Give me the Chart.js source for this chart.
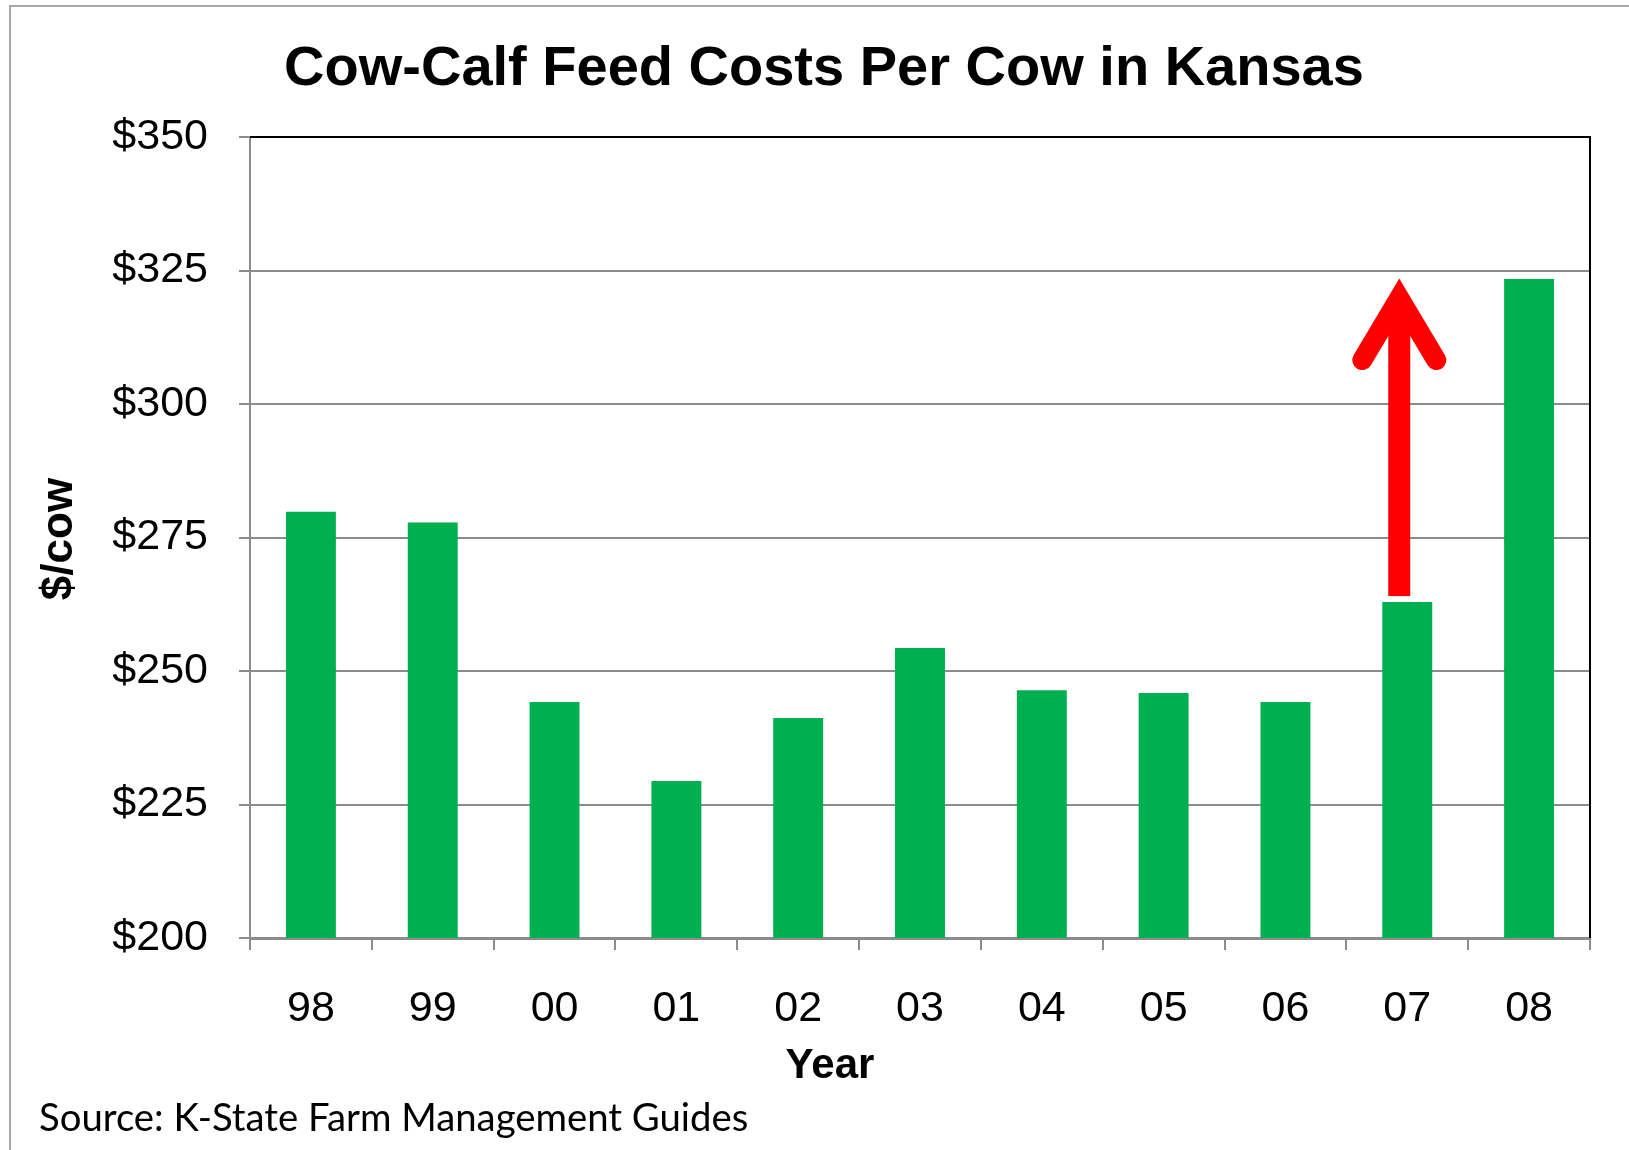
<!DOCTYPE html>
<html><head><meta charset="utf-8">
<script src="https://cdn.jsdelivr.net/npm/chart.js@4/dist/chart.umd.min.js"></script>
<style>html,body{margin:0;padding:0;background:#fff;} canvas{display:block;}</style>
</head><body>
<canvas id="c" width="1629" height="1150"></canvas>
<script>
// ---- data ----
const years = ['98', '99', '00', '01', '02', '03', '04', '05', '06', '07', '08'];
const costs = [279.8, 277.8, 244.2, 229.4, 241.2, 254.3, 246.4, 245.9, 244.2, 262.9, 323.4];
const yMin = 200, yMax = 350, yStep = 25;
const titleText = 'Cow-Calf Feed Costs Per Cow in Kansas';
const xTitleText = 'Year';
const yTitleText = '$/cow';
const sourceText = 'Source: K-State Farm Management Guides';
const arrowFrom = '07', arrowTo = '08';

const FONT = "'Liberation Sans', Arial, sans-serif";
const GRID = '#8c8c8c';

const decor = {
  id: 'decor',
  beforeDraw(chart) {
    const ctx = chart.ctx;
    ctx.save();
    ctx.fillStyle = '#fff';
    ctx.fillRect(0, 0, chart.width, chart.height);
    ctx.strokeStyle = '#a6a6a6';
    ctx.lineWidth = 2;
    ctx.beginPath();
    ctx.moveTo(10, chart.height);
    ctx.lineTo(10, 6);
    ctx.lineTo(chart.width, 6);
    ctx.stroke();
    ctx.restore();
  },
  afterDatasetsDraw(chart) {
    const ctx = chart.ctx;
    const xs = chart.scales.x, ys = chart.scales.y;
    const i0 = years.indexOf(arrowFrom), i1 = years.indexOf(arrowTo);
    const cx = xs.getPixelForValue(i0) - 8;
    const baseY = ys.getPixelForValue(costs[i0]) - 6;
    const tipY = ys.getPixelForValue(costs[i1]);
    const apexY = tipY + 19;
    ctx.save();
    ctx.fillStyle = '#ff0000';
    ctx.strokeStyle = '#ff0000';
    ctx.fillRect(cx - 11, apexY + 10, 22, baseY - apexY - 10);
    ctx.lineWidth = 20;
    ctx.lineCap = 'round';
    ctx.lineJoin = 'miter';
    ctx.beginPath();
    ctx.moveTo(cx - 37, apexY + 62);
    ctx.lineTo(cx, apexY);
    ctx.lineTo(cx + 37, apexY + 62);
    ctx.stroke();
    ctx.restore();
  },
  afterDraw(chart) {
    const ctx = chart.ctx, a = chart.chartArea;
    ctx.save();
    ctx.strokeStyle = '#000';
    ctx.lineWidth = 2;
    ctx.beginPath();
    ctx.moveTo(a.left, a.top);
    ctx.lineTo(a.right, a.top);
    ctx.lineTo(a.right, a.bottom);
    ctx.stroke();

    ctx.fillStyle = '#000';
    ctx.textAlign = 'center';
    ctx.textBaseline = 'middle';
    ctx.font = "bold 56px " + FONT;
    ctx.fillText(titleText, 824, 70);
    ctx.font = "bold 42px " + FONT;
    ctx.fillText(xTitleText, 830, 1066);

    ctx.save();
    ctx.translate(60, 539);
    ctx.rotate(-Math.PI / 2);
    ctx.font = "bold 44px " + FONT;
    ctx.fillText(yTitleText, 0, 0);
    ctx.restore();

    ctx.textAlign = 'left';
    ctx.textBaseline = 'alphabetic';
    ctx.font = "38.3px Lato, 'Liberation Sans', sans-serif";
    ctx.fillText(sourceText, 39, 1131);
    ctx.restore();
  }
};

new Chart(document.getElementById('c'), {
  type: 'bar',
  data: {
    labels: years,
    datasets: [{
      data: costs,
      backgroundColor: '#00b050',
      borderWidth: 0,
      barPercentage: 0.41,
      categoryPercentage: 1.0
    }]
  },
  options: {
    responsive: false,
    animation: false,
    devicePixelRatio: 1,
    layout: { padding: { top: 137, left: 0, right: 39, bottom: 0 } },
    plugins: { legend: { display: false }, title: { display: false }, tooltip: { enabled: false } },
    scales: {
      x: {
        grid: { display: true, drawOnChartArea: false, drawTicks: true, tickLength: 12, offset: true, color: GRID, lineWidth: 2 },
        border: { display: true, color: GRID, width: 3 },
        ticks: { font: { family: FONT, size: 43 }, color: '#000', padding: 33, maxRotation: 0, autoSkip: false },
        afterFit(scale) { scale.height = 212; }
      },
      y: {
        min: yMin, max: yMax,
        ticks: { stepSize: yStep, font: { family: FONT, size: 43 }, color: '#000', padding: 31, callback: v => '$' + v },
        grid: { color: GRID, lineWidth: 2, tickLength: 11 },
        border: { display: true, color: GRID, width: 2 },
        afterFit(scale) { scale.width = 250; }
      }
    }
  },
  plugins: [decor]
});
</script>
</body></html>
